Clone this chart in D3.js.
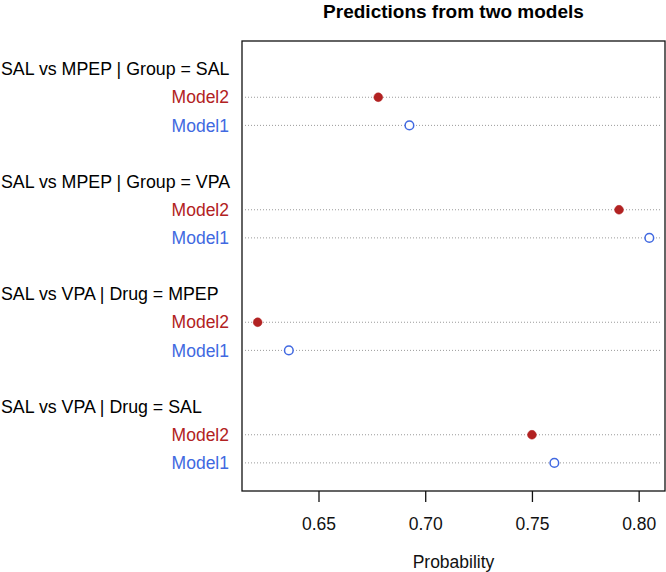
<!DOCTYPE html>
<html>
<head>
<meta charset="utf-8">
<script src="https://cdn.jsdelivr.net/npm/d3@7"></script>
<style>
  body { margin: 0; background: #fff; }
  text { font-family: "Liberation Sans", Arial, Helvetica, sans-serif; }
</style>
</head>
<body>
<svg id="chart" width="666" height="572"></svg>
<script>
// ---- data ----
const groups = [
  "SAL vs MPEP | Group = SAL",
  "SAL vs MPEP | Group = VPA",
  "SAL vs VPA | Drug = MPEP",
  "SAL vs VPA | Drug = SAL"
];
const models = ["Model2", "Model1"];
const model2Values = [0.678, 0.7908, 0.6215, 0.7500];
const model1Values = [0.6926, 0.8050, 0.6361, 0.7605];
const xTicks = [0.65, 0.70, 0.75, 0.80];
const title = "Predictions from two models";
const xLabel = "Probability";

// ---- layout ----
const svg = d3.select("#chart");
const plot = { left: 242, right: 665, top: 41, bottom: 491 };
const colors = { Model2: "#B22222", Model1: "#4169E1" };
const fs = 17.5;

const allVals = model2Values.concat(model1Values);
const mn = d3.min(allVals), mx = d3.max(allVals), pad = (mx - mn) * 0.04;
const x = d3.scaleLinear().domain([mn - pad, mx + pad]).range([plot.left, plot.right]);
// R dotchart style line units: 0..16
const y = d3.scaleLinear().domain([0, 16]).range([plot.bottom, plot.top]);

// build rows
const rows = [];
groups.forEach((g, gi) => {
  const base = 16 - 1 - gi * 4; // header line
  rows.push({ type: "header", label: g, u: base });
  rows.push({ type: "item", label: models[0], u: base - 1, v: model2Values[gi] });
  rows.push({ type: "item", label: models[1], u: base - 2, v: model1Values[gi] });
});

// dotted lines
svg.append("g").selectAll("line").data(rows.filter(r => r.type === "item")).join("line")
  .attr("x1", plot.left + 3).attr("x2", plot.right - 3)
  .attr("y1", d => y(d.u)).attr("y2", d => y(d.u))
  .attr("stroke", "#9a9a9a").attr("stroke-width", 1).attr("stroke-dasharray", "1,2");

// points
const items = rows.filter(r => r.type === "item");
svg.append("g").selectAll("circle").data(items).join("circle")
  .attr("cx", d => x(d.v)).attr("cy", d => y(d.u)).attr("r", d => d.label === "Model2" ? 4.4 : 4.3)
  .attr("fill", d => d.label === "Model2" ? colors.Model2 : "#fff")
  .attr("stroke", d => colors[d.label]).attr("stroke-width", d => d.label === "Model2" ? 0.5 : 1.5);

// labels
svg.append("g").selectAll("text").data(rows).join("text")
  .attr("x", d => d.type === "header" ? 1 : 229)
  .attr("y", d => y(d.u))
  .attr("dy", "0.35em")
  .attr("text-anchor", d => d.type === "header" ? "start" : "end")
  .attr("font-size", d => d.type === "header" ? 17.8 : fs)
  .attr("fill", d => d.type === "header" ? "#000" : colors[d.label])
  .text(d => d.label);

// box
svg.append("rect")
  .attr("x", plot.left).attr("y", plot.top)
  .attr("width", plot.right - plot.left).attr("height", plot.bottom - plot.top)
  .attr("fill", "none").attr("stroke", "#111").attr("stroke-width", 1.3);

// x axis
const axis = d3.axisBottom(x).tickValues(xTicks).tickFormat(d3.format(".2f")).tickSize(11).tickPadding(16);
const ax = svg.append("g").attr("transform", `translate(0,${plot.bottom})`).call(axis);
ax.select(".domain").remove();
ax.selectAll(".tick line").attr("stroke", "#111").attr("stroke-width", 1.3);
ax.selectAll(".tick text").attr("font-size", fs).attr("fill", "#111")
  .attr("font-family", "'Liberation Sans', Arial, Helvetica, sans-serif");

// axis title
svg.append("text").attr("x", (plot.left + plot.right) / 2).attr("y", 568)
  .attr("text-anchor", "middle").attr("font-size", fs).attr("fill", "#111").text(xLabel);

// title
svg.append("text").attr("x", (plot.left + plot.right) / 2).attr("y", 18)
  .attr("text-anchor", "middle").attr("font-size", 19).attr("font-weight", "bold")
  .attr("fill", "#000").text(title);
</script>
</body>
</html>
